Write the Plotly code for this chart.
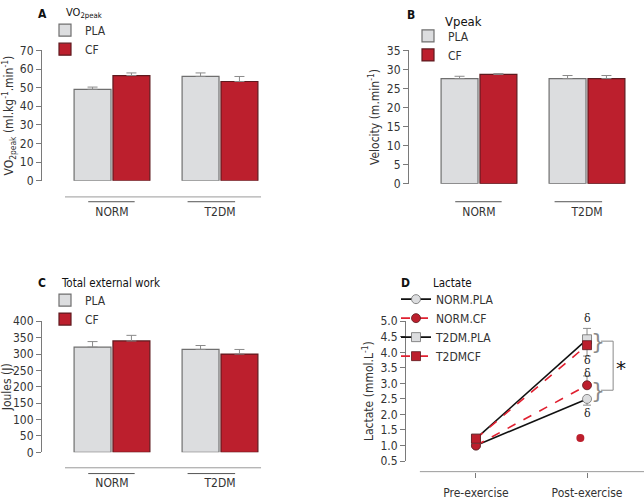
import plotly.graph_objects as go

# ---------------- data ----------------
groups = ["NORM", "T2DM"]

vo2_pla = [49.1, 56.0]
vo2_pla_err = [1.2, 1.9]
vo2_cf = [56.5, 53.3]
vo2_cf_err = [1.4, 2.7]

vpeak_pla = [27.6, 27.6]
vpeak_pla_err = [0.6, 0.8]
vpeak_cf = [28.7, 27.6]
vpeak_cf_err = [0.2, 0.8]

work_pla = [321, 314]
work_pla_err = [17, 12]
work_cf = [340, 300]
work_cf_err = [17, 14]

phases = ["Pre-exercise", "Post-exercise"]
phase_x = [0, 1]
norm_pla = [1.0, 2.5]
norm_pla_err_minus = [0.0, 0.2]
norm_cf = [1.0, 2.94]
norm_cf_err_plus = [0.0, 0.3]
t2dm_pla = [1.22, 4.42]
t2dm_pla_err_plus = [0.0, 0.35]
t2dm_cf = [1.22, 4.23]
t2dm_cf_err_minus = [0.0, 0.35]
stray_x = [0.94]
stray_y = [1.24]

delta_y = [3.73, 3.33, 2.03]

# ---------------- style ----------------
FONT = "Liberation Sans Narrow, DejaVu Sans Condensed, Arial Narrow, sans-serif"
GREY_FILL = "#dcdddf"
GREY_LINE = "#6f6f6f"
RED_FILL = "#bc1f2d"
RED_LINE = "#5e1a1f"
AXIS = "#7a7a7a"
TXT = "#333333"
ERR = "#8a8a8a"

W, H = 644, 500
def px(x):
    return x / W
def py(y):
    return 1 - y / H

fig = go.Figure()

def add_bars(xa, ya, pla, pla_err, cf, cf_err, leg):
    fig.add_trace(go.Bar(
        x=groups, y=pla, name="PLA", xaxis=xa, yaxis=ya, legend=leg,
        marker=dict(color=GREY_FILL, line=dict(color=GREY_LINE, width=1.2)),
        error_y=dict(type="data", array=pla_err, arrayminus=[0, 0], symmetric=False,
                     color=ERR, thickness=1, width=5),
    ))
    fig.add_trace(go.Bar(
        x=groups, y=cf, name="CF", xaxis=xa, yaxis=ya, legend=leg,
        marker=dict(color=RED_FILL, line=dict(color=RED_LINE, width=1.2)),
        error_y=dict(type="data", array=cf_err, arrayminus=[0, 0], symmetric=False,
                     color=ERR, thickness=1, width=5),
    ))

add_bars("x", "y", vo2_pla, vo2_pla_err, vo2_cf, vo2_cf_err, "legend")
add_bars("x2", "y2", vpeak_pla, vpeak_pla_err, vpeak_cf, vpeak_cf_err, "legend2")
add_bars("x3", "y3", work_pla, work_pla_err, work_cf, work_cf_err, "legend3")

# Lactate panel
def lac_trace(name, y, color, fill, symbol, dash, err_plus=None, err_minus=None):
    ed = dict(type="data", symmetric=False,
              array=err_plus if err_plus is not None else [0, 0],
              arrayminus=err_minus if err_minus is not None else [0, 0],
              color=ERR, thickness=1, width=4)
    fig.add_trace(go.Scatter(
        x=phase_x, y=y, name=name, xaxis="x4", yaxis="y4", legend="legend4",
        mode="lines+markers",
        line=dict(color=color, width=1.6, dash=dash),
        marker=dict(symbol=symbol, size=9, color=fill,
                    line=dict(color=GREY_LINE if fill == GREY_FILL else RED_LINE, width=0.8)),
        error_y=ed,
    ))

lac_trace("NORM.PLA", norm_pla, "#111111", GREY_FILL, "circle", "solid", err_minus=norm_pla_err_minus)
lac_trace("NORM.CF", norm_cf, "#e02030", RED_FILL, "circle", "dash", err_plus=norm_cf_err_plus)
lac_trace("T2DM.PLA", t2dm_pla, "#111111", GREY_FILL, "square", "solid", err_plus=t2dm_pla_err_plus)
lac_trace("T2DMCF", t2dm_cf, "#e02030", RED_FILL, "square", "dash", err_minus=t2dm_cf_err_minus)
fig.add_trace(go.Scatter(
    x=stray_x, y=stray_y, xaxis="x4", yaxis="y4", mode="markers", showlegend=False,
    marker=dict(symbol="circle", size=8, color=RED_FILL),
))

# ---------------- axes ----------------
yax_common = dict(showgrid=False, zeroline=False, showline=True, linecolor=AXIS, linewidth=1,
                  ticks="outside", ticklen=5, tickcolor=AXIS, tickwidth=1,
                  tickfont=dict(family=FONT, size=12, color=TXT))
xbar_common = dict(showgrid=False, zeroline=False, showline=False, ticks="",
                   tickfont=dict(family=FONT, size=12, color=TXT))

fig.update_layout(
    xaxis=dict(domain=[px(42), px(274)], range=[-0.648, 1.5], anchor="y",
               ticklabelstandoff=22, **xbar_common),
    yaxis=dict(domain=[py(180.3), py(45)], range=[0, 70], dtick=10, anchor="x",
               title=dict(text="VO<sub>2peak</sub> (ml.kg<sup>-1</sup>.min<sup>-1</sup>)",
                          font=dict(family=FONT, size=12, color=TXT), standoff=4),
               **yax_common),
    xaxis2=dict(domain=[px(409), px(641)], range=[-0.648, 1.5], anchor="y2",
                ticklabelstandoff=19, **xbar_common),
    yaxis2=dict(domain=[py(183.3), py(45)], range=[0, 35], dtick=5, anchor="x2",
                title=dict(text="Velocity (m.min<sup>-1</sup>)",
                           font=dict(family=FONT, size=12, color=TXT), standoff=4),
                **yax_common),
    xaxis3=dict(domain=[px(42), px(274)], range=[-0.648, 1.5], anchor="y3",
                ticklabelstandoff=22, **xbar_common),
    yaxis3=dict(domain=[py(462), py(326)], range=[0, 400], dtick=50, anchor="x3",
                title=dict(text="Joules (J)", font=dict(family=FONT, size=12, color=TXT), standoff=4),
                **yax_common),
    xaxis4=dict(domain=[px(406), 1.0], range=[-0.63, 1.513], anchor="free", position=py(482),
                tickvals=phase_x, ticktext=phases, showgrid=False, zeroline=False, showline=False,
                ticks="outside", ticklen=5, tickcolor=AXIS, ticklabelstandoff=5,
                tickfont=dict(family=FONT, size=12, color=TXT)),
    yaxis4=dict(domain=[py(471), py(326)], range=[0.5, 5.0], dtick=0.5, tickformat=".1f",
                anchor="x4",
                title=dict(text="Lactate (mmol.L<sup>-1</sup>)",
                           font=dict(family=FONT, size=12, color=TXT), standoff=4),
                **yax_common),
)

# ---------------- legends ----------------
leg_common = dict(xanchor="left", yanchor="top", bgcolor="rgba(0,0,0,0)",
                  font=dict(family=FONT, size=12, color=TXT), tracegroupgap=0,
                  itemwidth=30)
fig.update_layout(
    legend=dict(x=px(45), y=py(9), **leg_common),
    legend2=dict(x=px(408), y=py(15), **leg_common),
    legend3=dict(x=px(45), y=py(289), **leg_common),
    legend4=dict(x=px(396), y=py(288), **leg_common),
)

# ---------------- decorations ----------------
shapes = []
for xr, yb in [("x", 197), ("x3", 478)]:
    shapes.append(dict(type="line", xref=xr, yref="paper", x0=-0.435, x1=1.38,
                       y0=py(yb), y1=py(yb), line=dict(color="#9a9a9a", width=1)))
for xr, yl in [("x", 202), ("x2", 202), ("x3", 484)]:
    for a, b in [(-0.22, 0.21), (0.70, 1.14)]:
        shapes.append(dict(type="line", xref=xr, yref="paper", x0=a, x1=b,
                           y0=py(yl), y1=py(yl), line=dict(color="#555555", width=1)))
shapes.append(dict(type="line", xref="x4", yref="paper", x0=-0.505, x1=1.513,
                   y0=py(482), y1=py(482), line=dict(color="#9a9a9a", width=1)))
# significance connector
shapes.append(dict(type="path", xref="x4", yref="y4",
                   path="M 1.125 4.36 L 1.235 4.36 L 1.235 2.78 L 1.125 2.78",
                   line=dict(color="#8a8a8a", width=1)))
fig.update_layout(shapes=shapes)

ann = []
def txt(x, y, s, size=13, bold=False, family=FONT, color="#111111"):
    ann.append(dict(x=x, y=y, xref="paper", yref="paper", text=("<b>%s</b>" % s) if bold else s,
                    showarrow=False, xanchor="left", yanchor="middle",
                    font=dict(family=family, size=size, color=color)))

BOLD = "DejaVu Sans Condensed, sans-serif"
txt(px(36), py(7), "A", 12, True, family=BOLD)
txt(px(64), py(6), "VO<sub>2peak</sub>", 11)
txt(px(405), py(8), "B", 12, True, family=BOLD)
txt(px(443), py(15), "Vpeak", 13)
txt(px(36), py(286), "C", 12, True, family=BOLD)
txt(px(59), py(286), "Total external work", 11.5)
txt(px(399), py(286), "D", 12, True, family=BOLD)
txt(px(431), py(286), "Lactate", 11.5)

DELTA_FONT = dict(family="DejaVu Serif, serif", size=11, color="#222222")
for yv in delta_y:
    ann.append(dict(x=1, y=yv, xref="x4", yref="y4", text="δ", showarrow=False,
                    xanchor="center", yanchor="middle", font=DELTA_FONT))
# top delta sits just above the axis range, so place it in paper coordinates
ann.append(dict(x=1, y=py(323), xref="x4", yref="paper", text="δ", showarrow=False,
                xanchor="center", yanchor="middle", font=DELTA_FONT))
for yv in [4.36, 2.78]:
    ann.append(dict(x=1.1, y=yv, xref="x4", yref="y4", text="}", showarrow=False,
                    xanchor="center", yanchor="middle",
                    font=dict(family="DejaVu Sans, sans-serif", size=22, color="#8a8a8a")))
ann.append(dict(x=1.31, y=3.5, xref="x4", yref="y4", text="*", showarrow=False,
                xanchor="center", yanchor="middle",
                font=dict(family="DejaVu Sans, sans-serif", size=20, color="#111111")))
fig.update_layout(annotations=ann)

fig.update_layout(
    width=W, height=H, margin=dict(l=0, r=0, t=0, b=0),
    paper_bgcolor="white", plot_bgcolor="white",
    barmode="group", bargap=0.28, bargroupgap=0.05,
    font=dict(family=FONT, color=TXT),
)

fig.write_html("out.html")
